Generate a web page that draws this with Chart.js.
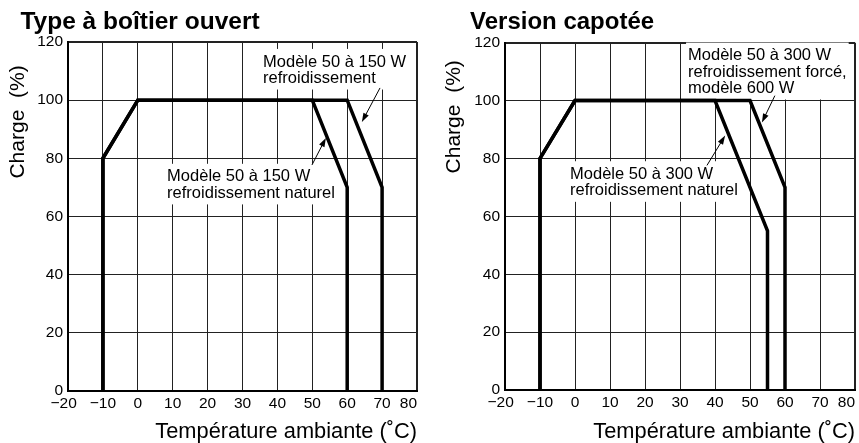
<!DOCTYPE html>
<html><head><meta charset="utf-8">
<script src="https://cdn.jsdelivr.net/npm/chart.js@4/dist/chart.umd.min.js"></script>
<style>
html,body{margin:0;padding:0;background:#fff;}
#wrap{position:relative;width:859px;height:443px;overflow:hidden;background:#fff;}
#c1{position:absolute;left:0;top:0;}
#c2{position:absolute;left:430px;top:0;}
</style></head><body>
<div id="wrap"><canvas id="c1" width="430" height="443"></canvas><canvas id="c2" width="429" height="443"></canvas></div>
<script>
// ---- data ----
const xTicks = [-20, -10, 0, 10, 20, 30, 40, 50, 60, 70, 80];
const yTicks = [0, 20, 40, 60, 80, 100, 120];

const openTitle = 'Type à boîtier ouvert';
const openNaturalX = [-10, -10, 0, 50, 60, 60];
const openNaturalY = [0, 80, 100, 100, 70, 0];
const openForcedX = [-10, -10, 0, 60, 70, 70];
const openForcedY = [0, 80, 100, 100, 70, 0];

const coverTitle = 'Version capotée';
const coverNaturalX = [-10, -10, 0, 40, 55, 55];
const coverNaturalY = [0, 80, 100, 100, 55, 0];
const coverForcedX = [-10, -10, 0, 50, 60, 60];
const coverForcedY = [0, 80, 100, 100, 70, 0];

const xAxisTitle = 'Température ambiante (˚C)';
const yAxisTitle = 'Charge  (%)';

const openNotes = [
  { lines: ['Modèle 50 à 150 W', 'refroidissement'], x: 35.9, y: 113.1, from: [69.4, 104.2], to: [64.2, 92.5] },
  { lines: ['Modèle 50 à 150 W', 'refroidissement naturel'], x: 8.4, y: 73.6, from: [49.9, 77.7], to: [53.9, 87.0] }
];
const coverNotes = [
  { lines: ['Modèle 50 à 300 W', 'refroidissement forcé,', 'modèle 600 W'], x: 32.3, y: 115.5, from: [57.1, 101.7], to: [53.4, 92.4] },
  { lines: ['Modèle 50 à 300 W', 'refroidissement naturel'], x: -1.4, y: 74.5, from: [37.7, 77.6], to: [42.9, 87.9] }
];

// ---- helpers ----
const FONT = '"Liberation Sans", Arial, Helvetica, sans-serif';
const toPoints = (xs, ys) => xs.map((v, i) => ({ x: v, y: ys[i] }));

const calloutPlugin = {
  id: 'callouts',
  beforeDatasetsDraw(chart, args, opts) {
    const items = opts.items || [];
    const { ctx } = chart;
    const sx = chart.scales.x, sy = chart.scales.y;
    ctx.save();
    ctx.font = '16.5px ' + FONT;
    ctx.textBaseline = 'middle';
    ctx.textAlign = 'left';
    const lh = 16.3;
    items.forEach(it => {
      const px = sx.getPixelForValue(it.x);
      const py0 = sy.getPixelForValue(it.y);
      const w = Math.max(...it.lines.map(l => ctx.measureText(l).width));
      ctx.fillStyle = '#fff';
      ctx.fillRect(px - 2, py0 - lh / 2 - 5, w + 4, lh * it.lines.length + 8);
      ctx.fillStyle = '#000';
      it.lines.forEach((l, i) => ctx.fillText(l, px, py0 + i * lh));
      const fx = sx.getPixelForValue(it.from[0]), fy = sy.getPixelForValue(it.from[1]);
      const tx = sx.getPixelForValue(it.to[0]), ty = sy.getPixelForValue(it.to[1]);
      const ang = Math.atan2(ty - fy, tx - fx);
      const L = 9, H = 3;
      ctx.strokeStyle = '#000';
      ctx.lineWidth = 1;
      ctx.beginPath();
      ctx.moveTo(fx, fy);
      ctx.lineTo(tx - Math.cos(ang) * L * 0.8, ty - Math.sin(ang) * L * 0.8);
      ctx.stroke();
      ctx.beginPath();
      ctx.moveTo(tx, ty);
      ctx.lineTo(tx - Math.cos(ang) * L - Math.sin(ang) * H, ty - Math.sin(ang) * L + Math.cos(ang) * H);
      ctx.lineTo(tx - Math.cos(ang) * L + Math.sin(ang) * H, ty - Math.sin(ang) * L - Math.cos(ang) * H);
      ctx.closePath();
      ctx.fill();
    });
    ctx.restore();
  }
};

function fmtX(v) {
  let s = v < 0 ? '\u2212' + Math.abs(v) : String(v);
  if (v === xTicks[0]) s = s + '  ';
  if (v === xTicks[xTicks.length - 1]) s = s + '    ';
  return s;
}

function makeChart(id, cfg) {
  const ds = (xs, ys) => ({
    data: toPoints(xs, ys),
    borderColor: '#000',
    borderWidth: 3.5,
    pointRadius: 0,
    fill: false,
    tension: 0,
    borderJoinStyle: 'miter',
    borderCapStyle: 'butt'
  });
  return new Chart(document.getElementById(id), {
    type: 'line',
    data: {
      datasets: [ds(cfg.natX, cfg.natY), ds(cfg.forX, cfg.forY)]
    },
    options: {
      responsive: false,
      animation: false,
      devicePixelRatio: 1,
      layout: { padding: { left: 0, right: cfg.padRight, top: 0, bottom: 0 } },
      plugins: {
        legend: { display: false },
        tooltip: { enabled: false },
        title: {
          display: true,
          text: cfg.title,
          align: 'start',
          color: '#000',
          font: { family: FONT, size: cfg.titleSize, weight: 'bold', lineHeight: 1.2 },
          padding: { top: 8, bottom: cfg.titleBottom }
        },
        callouts: { items: cfg.notes }
      },
      scales: {
        x: {
          type: 'linear',
          min: xTicks[0],
          max: xTicks[xTicks.length - 1],
          afterBuildTicks: s => { s.ticks = xTicks.map(v => ({ value: v })); },
          afterFit: s => { s.height = cfg.xHeight; s.paddingLeft = 0; s.paddingRight = 0; },
          grid: {
            color: '#222',
            lineWidth: c => (c.tick && c.tick.value === xTicks[xTicks.length - 1]) ? 2 : 1,
            drawTicks: false
          },
          border: { display: true, color: '#000', width: 2 },
          ticks: {
            color: '#000',
            padding: 3,
            maxRotation: 0,
            autoSkip: false,
            font: { family: FONT, size: 15.5 },
            callback: v => fmtX(v)
          },
          title: {
            display: true,
            text: xAxisTitle,
            align: 'end',
            color: '#000',
            font: { family: FONT, size: 21.8, lineHeight: 1 },
            padding: { top: 0, bottom: 0 }
          }
        },
        y: {
          type: 'linear',
          min: yTicks[0],
          max: yTicks[yTicks.length - 1],
          afterBuildTicks: s => { s.ticks = yTicks.map(v => ({ value: v })); },
          afterFit: s => { s.width = cfg.yWidth; s.paddingTop = 0; s.paddingBottom = 0; },
          grid: {
            color: '#222',
            lineWidth: c => (c.tick && c.tick.value === yTicks[yTicks.length - 1]) ? 2 : 1,
            drawTicks: false
          },
          border: { display: true, color: '#000', width: 2 },
          ticks: {
            color: '#000',
            padding: 5,
            autoSkip: false,
            font: { family: FONT, size: 15.5 }
          },
          title: {
            display: true,
            text: yAxisTitle + cfg.yTitleTail,
            align: 'end',
            color: '#000',
            font: { family: FONT, size: 21, lineHeight: 1.2 },
            padding: { top: cfg.yTitlePad, bottom: 0 }
          }
        }
      }
    },
    plugins: [calloutPlugin]
  });
}

makeChart('c1', {
  title: '   ' + openTitle, titleSize: 24.5,
  natX: openNaturalX, natY: openNaturalY,
  forX: openForcedX, forY: openForcedY,
  notes: openNotes,
  padRight: 13, xHeight: 52, yWidth: 68, titleBottom: 4.6,
  yTitlePad: 6, yTitleTail: '    '
});
makeChart('c2', {
  title: '      ' + coverTitle, titleSize: 24,
  natX: coverNaturalX, natY: coverNaturalY,
  forX: coverForcedX, forY: coverForcedY,
  notes: coverNotes,
  padRight: 4, xHeight: 53, yWidth: 75, titleBottom: 5.9,
  yTitlePad: 12, yTitleTail: '   '
});
</script>
</body></html>
